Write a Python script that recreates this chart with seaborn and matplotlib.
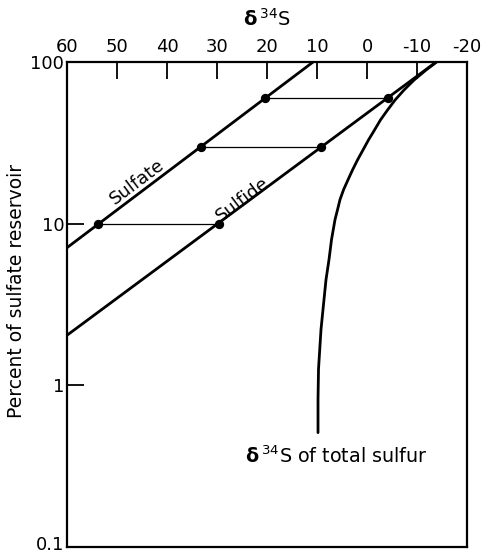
import matplotlib
matplotlib.use("Agg")
import matplotlib.pyplot as plt
import matplotlib.transforms as mtransforms
import seaborn as sns
import pandas as pd

# Rayleigh fractionation: delta-34S of sulfate and sulfide vs. remaining sulfate
sulfate_d34s = [60.0, 10.8]
sulfate_pct = [7.1, 100.0]

sulfide_d34s = [60.0, -13.8]
sulfide_pct = [2.04, 100.0]

# paired sample points at 10, 30 and 60 % of the reservoir
pair_pct = [10.0, 30.0, 60.0]
pair_sulfate = [53.7, 33.2, 20.3]
pair_sulfide = [29.6, 9.2, -4.1]

# delta-34S of total (accumulated) sulfur
total_pct = [100.0, 89.3, 77.4, 67.2, 58.2, 50.5, 43.9, 38.0, 33.0, 28.6,
             24.8, 21.5, 18.7, 16.2, 14.1, 12.2, 10.6, 7.97, 6.0, 4.51,
             3.40, 2.22, 1.26, 0.82, 0.51]
total_d34s = [-13.9, -11.8, -9.4, -7.4, -5.6, -4.1, -2.7, -1.5, -0.3, 0.8,
              1.9, 2.9, 3.8, 4.7, 5.4, 5.9, 6.4, 7.1, 7.6, 8.2,
              8.6, 9.2, 9.7, 9.8, 9.8]

x_ticks = [60, 50, 40, 30, 20, 10, 0, -10, -20]
x_ticklabels = ["60", "50", "40", "30", "20", "10", "0", "-10", "-20"]
y_ticks = [0.1, 1, 10, 100]
y_ticklabels = ["0.1", "1", "10", "100"]

sns.set_theme(style="ticks")
plt.rcParams["font.family"] = ["DejaVu Sans"]
plt.rcParams["mathtext.fontset"] = "dejavusans"
for key in ["text.color", "axes.labelcolor", "xtick.color", "ytick.color",
            "axes.edgecolor"]:
    plt.rcParams[key] = "black"

fig = plt.figure(figsize=(4.85, 5.55), dpi=100)
ax = fig.add_axes([0.138, 0.0144, 0.825, 0.8738])

line_kw = dict(color="black", linewidth=2.0, sort=False, estimator=None)
sns.lineplot(x=sulfate_d34s, y=sulfate_pct, ax=ax, **line_kw)
sns.lineplot(x=sulfide_d34s, y=sulfide_pct, ax=ax, **line_kw)
sns.lineplot(x=total_d34s, y=total_pct, ax=ax, **line_kw)

for p, a, b in zip(pair_pct, pair_sulfate, pair_sulfide):
    ax.plot([a, b], [p, p], color="black", linewidth=0.9, zorder=2)

dots = pd.DataFrame({
    "d34s": pair_sulfate + pair_sulfide,
    "pct": pair_pct + pair_pct,
})
sns.scatterplot(data=dots, x="d34s", y="pct", ax=ax, color="black",
                s=45, edgecolor="black", linewidth=0, zorder=4)

ax.set_yscale("log")
ax.set_xlim(60, -20)
ax.set_ylim(0.1, 100)

ax.xaxis.tick_top()
ax.xaxis.set_label_position("top")
ax.set_xticks(x_ticks)
ax.set_xticklabels(x_ticklabels)
ax.set_yticks(y_ticks)
ax.set_yticklabels(y_ticklabels)
ax.minorticks_off()
ax.tick_params(axis="x", direction="in", length=12, width=1.3, pad=4,
               labelsize=13, top=True, bottom=False)
ax.tick_params(axis="y", direction="in", length=12, width=1.3, pad=2,
               labelsize=13, left=True, right=False)

# lift the lowest y label so it stays inside the figure
lowest = ax.get_yticklabels()[0]
lowest.set_transform(lowest.get_transform() +
                     mtransforms.ScaledTranslation(0, 4 / 100, fig.dpi_scale_trans))

for side in ["left", "right", "top", "bottom"]:
    ax.spines[side].set_visible(True)
    ax.spines[side].set_linewidth(1.6)
    ax.spines[side].set_color("black")

ax.set_xlabel(r"$\mathbf{δ}\,^{34}\mathrm{S}$", fontsize=14, labelpad=9)
ax.set_ylabel("Percent of sulfate reservoir", fontsize=13.5)
ax.yaxis.set_label_coords(-0.102, 0.527)

ax.text(46, 18.2, "Sulfate", rotation=37, ha="center", va="center",
        fontsize=13, rotation_mode="anchor")
ax.text(24.8, 14.1, "Sulfide", rotation=37, ha="center", va="center",
        fontsize=13, rotation_mode="anchor")
ax.text(24.4, 0.364, r"$\mathbf{δ}\,^{34}\mathrm{S}$ of total sulfur",
        ha="left", va="center", fontsize=13.8)

ax.grid(False)
fig.savefig("out.png", dpi=100, facecolor="white")
